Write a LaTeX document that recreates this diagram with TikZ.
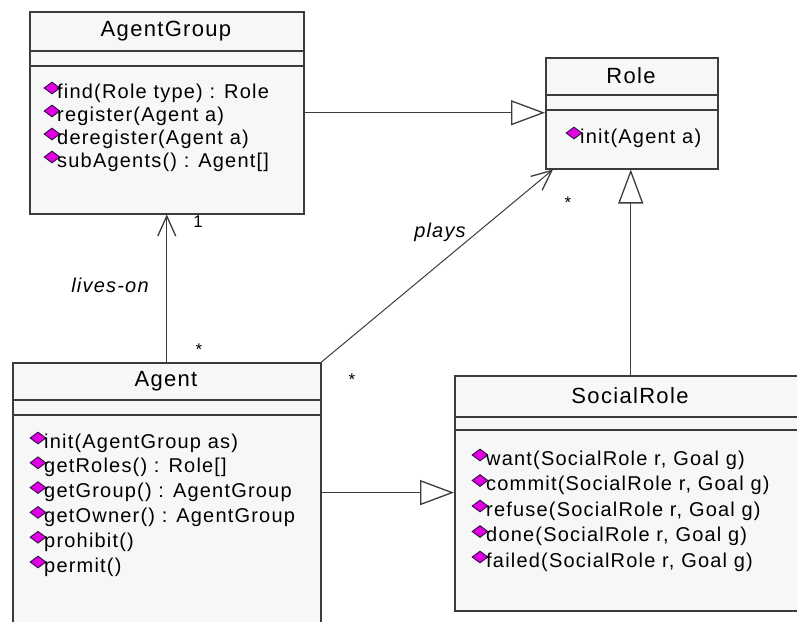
\documentclass[tikz,border=0pt]{standalone}
\usepackage{fontspec}
\setmainfont{Liberation Sans}[LetterSpace=6]
\usetikzlibrary{arrows.meta,shapes.geometric}

\definecolor{umlline}{HTML}{3C3C3C}
\definecolor{umlfill}{HTML}{F7F7F7}
\definecolor{opdiam}{HTML}{E000E0}
\definecolor{opedge}{HTML}{30104A}

\tikzset{
  classbox/.style={draw=umlline, line width=1.5pt, fill=umlfill, inner sep=0, anchor=north west},
  compart/.style={draw=umlline, line width=1.5pt},
  classname/.style={font=\fontsize{22}{26}\selectfont, inner sep=0},
  meth/.style={font=\fontsize{20}{24}\selectfont, inner sep=0, anchor=west, text height=14pt, text depth=4pt},
  opicon/.style={diamond, draw=opedge, fill=opdiam, line width=0.9pt, inner sep=0, minimum width=16pt, minimum height=12pt},
  link/.style={draw=umlline, line width=1.3pt},
  general/.style={link, -{Triangle[open, length=34pt, width=25pt, line width=1.3pt]}},
  nav/.style={link, -{Straight Barb[length=20pt, width=18pt, line width=1.3pt]}},
  rolelabel/.style={font=\fontsize{20}{24}\selectfont\itshape, inner sep=0},
  mult/.style={font=\fontsize{17}{20}\selectfont, inner sep=0},
}

\begin{document}
\begin{tikzpicture}[x=1pt, y=-1pt]
    \fill[white] (0,0) rectangle (797,621);
    \useasboundingbox (0,0) rectangle (797,621);

    % AgentGroup
    \node[classbox, minimum width=274pt, minimum height=202pt] (agentgroup) at (29,11) {};
    \draw[compart] ([yshift=-40pt]agentgroup.north west) -- ([yshift=-40pt]agentgroup.north east);
    \draw[compart] ([yshift=-55pt]agentgroup.north west) -- ([yshift=-55pt]agentgroup.north east);
    \node[classname] (agentgroup-t) at (166,31) {AgentGroup};
    \foreach \op [count=\i] in {{find(Role type) : Role}, {register(Agent a)}, {deregister(Agent a)}, {subAgents() : Agent[]}} {
        \node[opicon] (agentgroup-d\i) at (52, {88+23*(\i-1)}) {};
        \node[meth] (agentgroup-\i) at (57, {93+23*(\i-1)}) {\op};
    }

    % Role
    \node[classbox, minimum width=172pt, minimum height=111pt] (role) at (545,57) {};
    \draw[compart] ([yshift=-38pt]role.north west) -- ([yshift=-38pt]role.north east);
    \draw[compart] ([yshift=-53pt]role.north west) -- ([yshift=-53pt]role.north east);
    \node[classname] (role-t) at (631,76) {Role};
    \node[opicon] (role-d1) at (574,133) {};
    \node[meth] (role-1) at (580,138) {init(Agent a)};

    % Agent
    \node[classbox, minimum width=308pt, minimum height=290pt] (agent) at (12,362) {};
    \draw[compart] ([yshift=-38pt]agent.north west) -- ([yshift=-38pt]agent.north east);
    \draw[compart] ([yshift=-53pt]agent.north west) -- ([yshift=-53pt]agent.north east);
    \node[classname] (agent-t) at (166,381) {Agent};
    \foreach \op [count=\i] in {{init(AgentGroup as)}, {getRoles() : Role[]}, {getGroup() : AgentGroup}, {getOwner() : AgentGroup}, {prohibit()}, {permit()}} {
        \node[opicon] (agent-d\i) at (38, {438+24.8*(\i-1)}) {};
        \node[meth] (agent-\i) at (44, {443+24.8*(\i-1)}) {\op};
    }

    % SocialRole
    \node[classbox, minimum width=352pt, minimum height=235pt] (socialrole) at (454,375) {};
    \draw[compart] ([yshift=-42pt]socialrole.north west) -- ([yshift=-42pt]socialrole.north east);
    \draw[compart] ([yshift=-55pt]socialrole.north west) -- ([yshift=-55pt]socialrole.north east);
    \node[classname] (socialrole-t) at (630,396) {SocialRole};
    \foreach \op [count=\i] in {{want(SocialRole r, Goal g)}, {commit(SocialRole r, Goal g)}, {refuse(SocialRole r, Goal g)}, {done(SocialRole r, Goal g)}, {failed(SocialRole r, Goal g)}} {
        \node[opicon] (socialrole-d\i) at (480, {455+25.5*(\i-1)}) {};
        \node[meth] (socialrole-\i) at (486, {460+25.5*(\i-1)}) {\op};
    }

    % connectors
    \draw[general] (agentgroup.east) -- (agentgroup.east -| role.west);
    \draw[general] (socialrole.north) -- (socialrole.north |- role.south);
    \draw[general] (agent-3.west -| agent.east) -- (agent-3.west -| socialrole.west);
    \draw[nav] (agent.north) -- (agentgroup.south);
    \draw[nav, line width=1pt] (agent.north east) -- ([xshift=8pt]role.south west);

    % labels
    \node[rolelabel] (liveson) at (110,285) {lives-on};
    \node[mult] (ag-one) at (198,222) {1};
    \node[mult] (ag-many) at (199,350) {*};
    \node[rolelabel] (plays) at (440,232) {plays};
    \node[mult] (role-many) at (568,203) {*};
    \node[mult] (agent-many) at (352,380) {*};
\end{tikzpicture}
\end{document}
